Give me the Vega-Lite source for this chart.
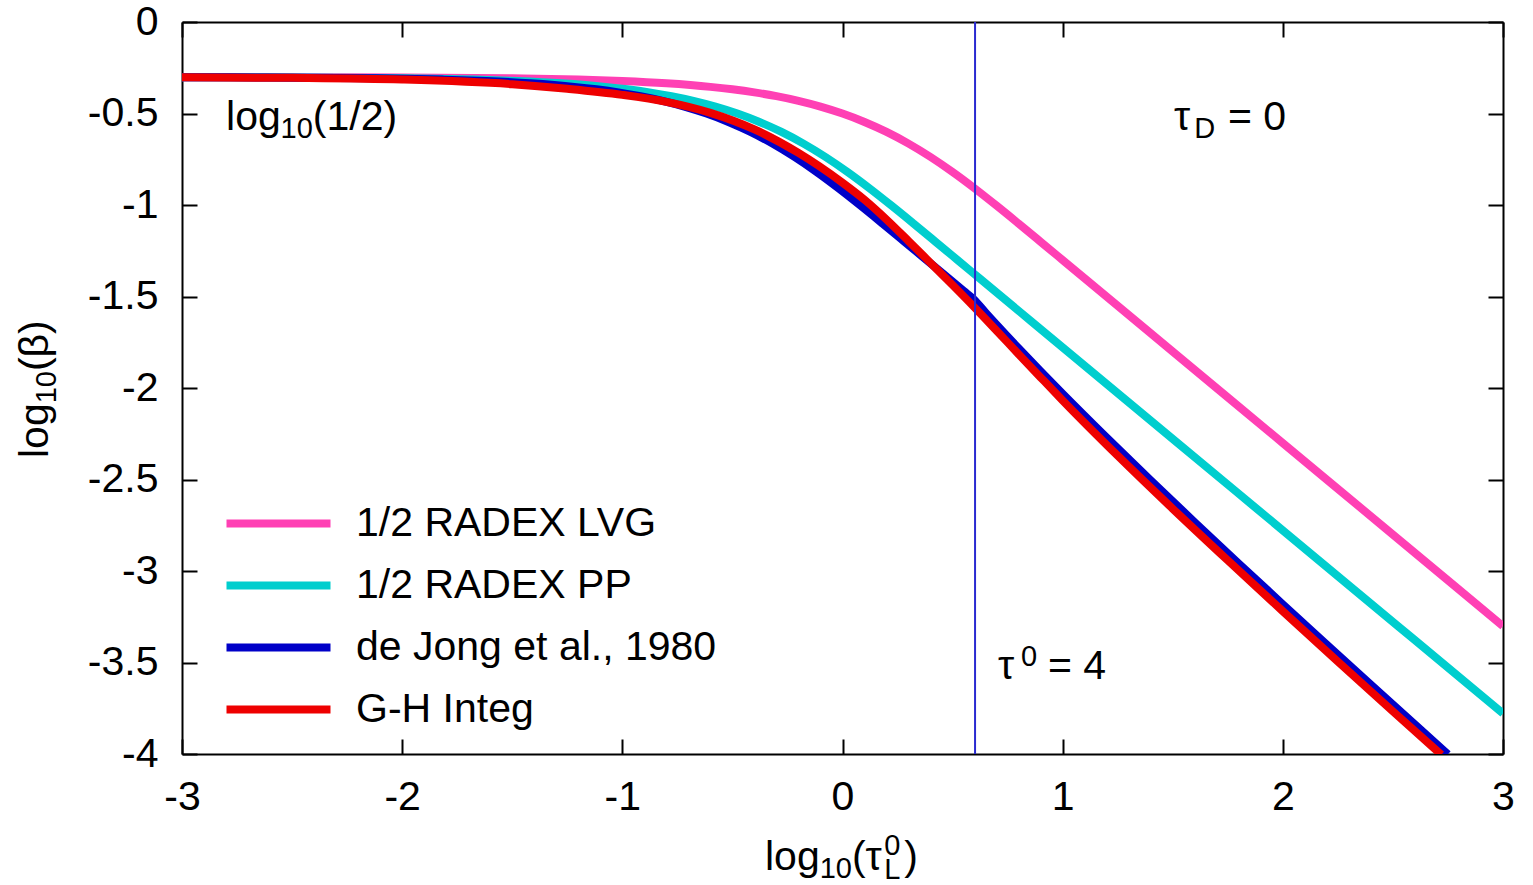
{
  "$schema": "https://vega.github.io/schema/vega-lite/v6.json",
  "width": 1321,
  "height": 732,
  "autosize": {"type": "none"},
  "padding": {"left": 182, "top": 22, "right": 30, "bottom": 131},
  "background": "white",
  "config": {
    "view": {"stroke": null},
    "font": "Liberation Sans",
    "text": {"font": "Liberation Sans", "color": "black"}
  },
  "datasets": {
    "curves": [
      {"s": "1/2 RADEX LVG", "x": -3, "y": -0.30125},
      {"s": "1/2 RADEX LVG", "x": -2.5, "y": -0.30172},
      {"s": "1/2 RADEX LVG", "x": -2, "y": -0.3032},
      {"s": "1/2 RADEX LVG", "x": -1.5, "y": -0.30788},
      {"s": "1/2 RADEX LVG", "x": -1.2, "y": -0.31466},
      {"s": "1/2 RADEX LVG", "x": -1, "y": -0.32257},
      {"s": "1/2 RADEX LVG", "x": -0.8, "y": -0.33499},
      {"s": "1/2 RADEX LVG", "x": -0.6, "y": -0.35443},
      {"s": "1/2 RADEX LVG", "x": -0.5, "y": -0.36789},
      {"s": "1/2 RADEX LVG", "x": -0.4, "y": -0.38461},
      {"s": "1/2 RADEX LVG", "x": -0.3, "y": -0.40532},
      {"s": "1/2 RADEX LVG", "x": -0.2, "y": -0.43086},
      {"s": "1/2 RADEX LVG", "x": -0.1, "y": -0.46216},
      {"s": "1/2 RADEX LVG", "x": 0, "y": -0.50023},
      {"s": "1/2 RADEX LVG", "x": 0.1, "y": -0.54609},
      {"s": "1/2 RADEX LVG", "x": 0.2, "y": -0.60064},
      {"s": "1/2 RADEX LVG", "x": 0.3, "y": -0.66451},
      {"s": "1/2 RADEX LVG", "x": 0.4, "y": -0.73777},
      {"s": "1/2 RADEX LVG", "x": 0.5, "y": -0.81981},
      {"s": "1/2 RADEX LVG", "x": 0.6, "y": -0.90921},
      {"s": "1/2 RADEX LVG", "x": 0.7, "y": -1.00392},
      {"s": "1/2 RADEX LVG", "x": 0.8, "y": -1.10181},
      {"s": "1/2 RADEX LVG", "x": 0.9, "y": -1.20118},
      {"s": "1/2 RADEX LVG", "x": 1.0, "y": -1.30105},
      {"s": "1/2 RADEX LVG", "x": 1.1, "y": -1.40103},
      {"s": "1/2 RADEX LVG", "x": 1.5, "y": -1.80103},
      {"s": "1/2 RADEX LVG", "x": 2, "y": -2.30103},
      {"s": "1/2 RADEX LVG", "x": 2.5, "y": -2.80103},
      {"s": "1/2 RADEX LVG", "x": 3, "y": -3.30103},

      {"s": "1/2 RADEX PP", "x": -3, "y": -0.30168},
      {"s": "1/2 RADEX PP", "x": -2.47712, "y": -0.3032},
      {"s": "1/2 RADEX PP", "x": -1.97712, "y": -0.30788},
      {"s": "1/2 RADEX PP", "x": -1.67712, "y": -0.31466},
      {"s": "1/2 RADEX PP", "x": -1.47712, "y": -0.32257},
      {"s": "1/2 RADEX PP", "x": -1.27712, "y": -0.33499},
      {"s": "1/2 RADEX PP", "x": -1.07712, "y": -0.35443},
      {"s": "1/2 RADEX PP", "x": -0.97712, "y": -0.36789},
      {"s": "1/2 RADEX PP", "x": -0.87712, "y": -0.38461},
      {"s": "1/2 RADEX PP", "x": -0.77712, "y": -0.40532},
      {"s": "1/2 RADEX PP", "x": -0.67712, "y": -0.43086},
      {"s": "1/2 RADEX PP", "x": -0.57712, "y": -0.46216},
      {"s": "1/2 RADEX PP", "x": -0.47712, "y": -0.50023},
      {"s": "1/2 RADEX PP", "x": -0.37712, "y": -0.54609},
      {"s": "1/2 RADEX PP", "x": -0.27712, "y": -0.60064},
      {"s": "1/2 RADEX PP", "x": -0.17712, "y": -0.66451},
      {"s": "1/2 RADEX PP", "x": -0.07712, "y": -0.73777},
      {"s": "1/2 RADEX PP", "x": 0.02288, "y": -0.81981},
      {"s": "1/2 RADEX PP", "x": 0.12288, "y": -0.90921},
      {"s": "1/2 RADEX PP", "x": 0.22288, "y": -1.00392},
      {"s": "1/2 RADEX PP", "x": 0.32288, "y": -1.10181},
      {"s": "1/2 RADEX PP", "x": 0.42288, "y": -1.20118},
      {"s": "1/2 RADEX PP", "x": 0.52288, "y": -1.30105},
      {"s": "1/2 RADEX PP", "x": 0.62288, "y": -1.40103},
      {"s": "1/2 RADEX PP", "x": 1.02288, "y": -1.80103},
      {"s": "1/2 RADEX PP", "x": 1.52288, "y": -2.30103},
      {"s": "1/2 RADEX PP", "x": 2.02288, "y": -2.80103},
      {"s": "1/2 RADEX PP", "x": 2.52288, "y": -3.30103},
      {"s": "1/2 RADEX PP", "x": 3, "y": -3.77815},

      {"s": "de Jong et al., 1980", "x": -3, "y": -0.30193},
      {"s": "de Jong et al., 1980", "x": -2.61781, "y": -0.3032},
      {"s": "de Jong et al., 1980", "x": -2.11781, "y": -0.30788},
      {"s": "de Jong et al., 1980", "x": -1.81781, "y": -0.31466},
      {"s": "de Jong et al., 1980", "x": -1.61781, "y": -0.32257},
      {"s": "de Jong et al., 1980", "x": -1.41781, "y": -0.33499},
      {"s": "de Jong et al., 1980", "x": -1.21781, "y": -0.35443},
      {"s": "de Jong et al., 1980", "x": -1.11781, "y": -0.36789},
      {"s": "de Jong et al., 1980", "x": -1.01781, "y": -0.38461},
      {"s": "de Jong et al., 1980", "x": -0.91781, "y": -0.40532},
      {"s": "de Jong et al., 1980", "x": -0.81781, "y": -0.43086},
      {"s": "de Jong et al., 1980", "x": -0.71781, "y": -0.46216},
      {"s": "de Jong et al., 1980", "x": -0.61781, "y": -0.50023},
      {"s": "de Jong et al., 1980", "x": -0.51781, "y": -0.54609},
      {"s": "de Jong et al., 1980", "x": -0.41781, "y": -0.60064},
      {"s": "de Jong et al., 1980", "x": -0.31781, "y": -0.66451},
      {"s": "de Jong et al., 1980", "x": -0.21781, "y": -0.73777},
      {"s": "de Jong et al., 1980", "x": -0.11781, "y": -0.81981},
      {"s": "de Jong et al., 1980", "x": -0.01781, "y": -0.90921},
      {"s": "de Jong et al., 1980", "x": 0.08219, "y": -1.00392},
      {"s": "de Jong et al., 1980", "x": 0.18219, "y": -1.10181},
      {"s": "de Jong et al., 1980", "x": 0.28219, "y": -1.20118},
      {"s": "de Jong et al., 1980", "x": 0.38219, "y": -1.30105},
      {"s": "de Jong et al., 1980", "x": 0.48219, "y": -1.40103},
      {"s": "de Jong et al., 1980", "x": 0.55, "y": -1.46884},
      {"s": "de Jong et al., 1980", "x": 0.5965, "y": -1.51534},
      {"s": "de Jong et al., 1980", "x": 0.65, "y": -1.58822},
      {"s": "de Jong et al., 1980", "x": 0.7, "y": -1.65431},
      {"s": "de Jong et al., 1980", "x": 0.8, "y": -1.7833},
      {"s": "de Jong et al., 1980", "x": 0.9, "y": -1.90888},
      {"s": "de Jong et al., 1980", "x": 1.0, "y": -2.03176},
      {"s": "de Jong et al., 1980", "x": 1.2, "y": -2.27135},
      {"s": "de Jong et al., 1980", "x": 1.4, "y": -2.50482},
      {"s": "de Jong et al., 1980", "x": 1.6, "y": -2.7338},
      {"s": "de Jong et al., 1980", "x": 1.8, "y": -2.95939},
      {"s": "de Jong et al., 1980", "x": 2.0, "y": -3.18228},
      {"s": "de Jong et al., 1980", "x": 2.2, "y": -3.40297},
      {"s": "de Jong et al., 1980", "x": 2.4, "y": -3.62187},
      {"s": "de Jong et al., 1980", "x": 2.6, "y": -3.83925},
      {"s": "de Jong et al., 1980", "x": 2.75, "y": -4.00143},

      {"s": "G-H Integ", "x": -3, "y": -0.302},
      {"s": "G-H Integ", "x": -2.5, "y": -0.3053},
      {"s": "G-H Integ", "x": -2, "y": -0.3145},
      {"s": "G-H Integ", "x": -1.5, "y": -0.34},
      {"s": "G-H Integ", "x": -1.25, "y": -0.3653},
      {"s": "G-H Integ", "x": -1, "y": -0.3983},
      {"s": "G-H Integ", "x": -0.8, "y": -0.4364},
      {"s": "G-H Integ", "x": -0.6, "y": -0.4964},
      {"s": "G-H Integ", "x": -0.4, "y": -0.587},
      {"s": "G-H Integ", "x": -0.2, "y": -0.7154},
      {"s": "G-H Integ", "x": 0, "y": -0.8781},
      {"s": "G-H Integ", "x": 0.1, "y": -0.9714},
      {"s": "G-H Integ", "x": 0.2, "y": -1.0795},
      {"s": "G-H Integ", "x": 0.3, "y": -1.197},
      {"s": "G-H Integ", "x": 0.4, "y": -1.317},
      {"s": "G-H Integ", "x": 0.5, "y": -1.437},
      {"s": "G-H Integ", "x": 0.6, "y": -1.56},
      {"s": "G-H Integ", "x": 0.7, "y": -1.687},
      {"s": "G-H Integ", "x": 0.8, "y": -1.815},
      {"s": "G-H Integ", "x": 0.9, "y": -1.942},
      {"s": "G-H Integ", "x": 1.0, "y": -2.068},
      {"s": "G-H Integ", "x": 1.25, "y": -2.37},
      {"s": "G-H Integ", "x": 1.5, "y": -2.66},
      {"s": "G-H Integ", "x": 1.75, "y": -2.942},
      {"s": "G-H Integ", "x": 2.0, "y": -3.22},
      {"s": "G-H Integ", "x": 2.25, "y": -3.495},
      {"s": "G-H Integ", "x": 2.5, "y": -3.767},
      {"s": "G-H Integ", "x": 2.72, "y": -4.004}
    ],
    "ann": [
      {"t": "log", "x": -2.8, "y": -0.59, "k": "main"},
      {"t": "(1/2)", "x": -2.4057, "y": -0.59, "k": "main"},
      {"t": "τ", "x": 1.5057, "y": -0.59, "k": "main"},
      {"t": "= 0", "x": 1.751, "y": -0.59, "k": "main"},
      {"t": "τ", "x": 0.7063, "y": -3.59, "k": "main"},
      {"t": "= 4", "x": 0.9334, "y": -3.59, "k": "main"},
      {"t": "log", "x": -0.352, "y": -4.634, "k": "main"},
      {"t": "(", "x": 0.0431, "y": -4.634, "k": "main"},
      {"t": "τ", "x": 0.1049, "y": -4.634, "k": "main"},
      {"t": ")", "x": 0.281, "y": -4.634, "k": "main"},
      {"t": "10", "x": -2.5525, "y": -0.634, "k": "sub"},
      {"t": "D", "x": 1.598, "y": -0.634, "k": "sub"},
      {"t": "0", "x": 0.8107, "y": -3.52, "k": "sub"},
      {"t": "10", "x": -0.1036, "y": -4.678, "k": "sub"},
      {"t": "0", "x": 0.19, "y": -4.55, "k": "sub"},
      {"t": "L", "x": 0.19, "y": -4.685, "k": "sub"},
      {"t": "log", "x": -3.6086, "y": -2.3825, "k": "rmain"},
      {"t": "(", "x": -3.6086, "y": -1.9071, "k": "rmain"},
      {"t": "β", "x": -3.6086, "y": -1.8328, "k": "rmain"},
      {"t": ")", "x": -3.6086, "y": -1.705, "k": "rmain"},
      {"t": "10", "x": -3.5723, "y": -2.0836, "k": "rsub"}
    ],
    "vline": [{"x": 0.60206}]
  },
  "resolve": {"axis": {"x": "independent", "y": "independent"}},
  "layer": [
    {
      "data": {"name": "curves"},
      "transform": [{"filter": "datum.s != 'G-H Integ'"}],
      "mark": {"type": "line", "strokeWidth": 8, "clip": true, "interpolate": "monotone", "strokeCap": "butt", "strokeJoin": "round"},
      "encoding": {
        "x": {"field": "x", "type": "quantitative",
          "scale": {"domain": [-3, 3], "nice": false, "zero": false},
          "axis": {"orient": "bottom", "values": [-3, -2, -1, 0, 1, 2, 3], "title": null, "grid": false,
            "tickSize": -15, "tickWidth": 2, "tickColor": "black", "domainColor": "black", "domainWidth": 2,
            "labelFont": "Liberation Sans", "labelFontSize": 41, "labelColor": "black", "labelPadding": 38,
            "labelFlush": false, "labelOverlap": false, "labelExpr": "'' + datum.value"}},
        "y": {"field": "y", "type": "quantitative",
          "scale": {"domain": [-4, 0], "nice": false, "zero": false},
          "axis": {"orient": "left", "values": [-4, -3.5, -3, -2.5, -2, -1.5, -1, -0.5, 0], "title": null, "grid": false,
            "tickSize": -15, "tickWidth": 2, "tickColor": "black", "domainColor": "black", "domainWidth": 2,
            "labelFont": "Liberation Sans", "labelFontSize": 41, "labelColor": "black", "labelPadding": 39,
            "labelFlush": false, "labelOverlap": false, "labelBound": false, "labelExpr": "'' + datum.value"}},
        "color": {"field": "s", "type": "nominal",
          "scale": {"domain": ["1/2 RADEX LVG", "1/2 RADEX PP", "de Jong et al., 1980", "G-H Integ"],
                    "range": ["#ff40b4", "#00cece", "#0000c8", "#ee0000"]},
          "legend": {"orient": "none", "legendX": 76, "legendY": 481, "title": null, "padding": 0,
            "symbolType": "M-4,0H4", "symbolSize": 676, "symbolStrokeWidth": 8,
            "labelFont": "Liberation Sans", "labelFontSize": 41, "labelColor": "black", "labelLimit": 800,
            "labelOffset": 57, "rowPadding": 20}}
      }
    },
    {
      "data": {"name": "curves"},
      "transform": [{"filter": "datum.s == 'G-H Integ'"}],
      "mark": {"type": "line", "strokeWidth": 8, "clip": true, "interpolate": "monotone", "strokeCap": "butt", "strokeJoin": "round"},
      "encoding": {
        "x": {"field": "x", "type": "quantitative", "scale": {"domain": [-3, 3], "nice": false, "zero": false}, "axis": null},
        "y": {"field": "y", "type": "quantitative", "scale": {"domain": [-4, 0], "nice": false, "zero": false}, "axis": null},
        "color": {"field": "s", "type": "nominal"}
      }
    },
    {
      "data": {"name": "ann"},
      "transform": [{"filter": "datum.k == 'main'"}],
      "mark": {"type": "text", "fontSize": 41, "align": "left", "baseline": "alphabetic", "font": "Liberation Sans", "color": "black"},
      "encoding": {
        "x": {"field": "x", "type": "quantitative",
          "scale": {"domain": [-3, 3], "nice": false, "zero": false},
          "axis": {"orient": "top", "values": [-3, -2, -1, 0, 1, 2, 3], "title": null, "labels": false, "grid": false,
            "tickSize": -15, "tickWidth": 2, "tickColor": "black", "domainColor": "black", "domainWidth": 2}},
        "y": {"field": "y", "type": "quantitative",
          "scale": {"domain": [-4, 0], "nice": false, "zero": false},
          "axis": {"orient": "right", "values": [-4, -3.5, -3, -2.5, -2, -1.5, -1, -0.5, 0], "title": null, "labels": false, "grid": false,
            "tickSize": -15, "tickWidth": 2, "tickColor": "black", "domainColor": "black", "domainWidth": 2}},
        "text": {"field": "t"}
      }
    },
    {
      "data": {"name": "ann"},
      "transform": [{"filter": "datum.k == 'sub'"}],
      "mark": {"type": "text", "fontSize": 29, "align": "left", "baseline": "alphabetic", "font": "Liberation Sans", "color": "black"},
      "encoding": {
        "x": {"field": "x", "type": "quantitative", "scale": {"domain": [-3, 3], "nice": false, "zero": false}, "axis": null},
        "y": {"field": "y", "type": "quantitative", "scale": {"domain": [-4, 0], "nice": false, "zero": false}, "axis": null},
        "text": {"field": "t"}
      }
    },
    {
      "data": {"name": "ann"},
      "transform": [{"filter": "datum.k == 'rmain'"}],
      "mark": {"type": "text", "fontSize": 41, "angle": 270, "align": "left", "baseline": "alphabetic", "font": "Liberation Sans", "color": "black"},
      "encoding": {
        "x": {"field": "x", "type": "quantitative", "scale": {"domain": [-3, 3], "nice": false, "zero": false}, "axis": null},
        "y": {"field": "y", "type": "quantitative", "scale": {"domain": [-4, 0], "nice": false, "zero": false}, "axis": null},
        "text": {"field": "t"}
      }
    },
    {
      "data": {"name": "ann"},
      "transform": [{"filter": "datum.k == 'rsub'"}],
      "mark": {"type": "text", "fontSize": 29, "angle": 270, "align": "left", "baseline": "alphabetic", "font": "Liberation Sans", "color": "black"},
      "encoding": {
        "x": {"field": "x", "type": "quantitative", "scale": {"domain": [-3, 3], "nice": false, "zero": false}, "axis": null},
        "y": {"field": "y", "type": "quantitative", "scale": {"domain": [-4, 0], "nice": false, "zero": false}, "axis": null},
        "text": {"field": "t"}
      }
    },
    {
      "data": {"name": "vline"},
      "mark": {"type": "rule", "color": "#2a2ad0", "strokeWidth": 2},
      "encoding": {
        "x": {"field": "x", "type": "quantitative", "scale": {"domain": [-3, 3], "nice": false, "zero": false}, "axis": null}
      }
    }
  ]
}
